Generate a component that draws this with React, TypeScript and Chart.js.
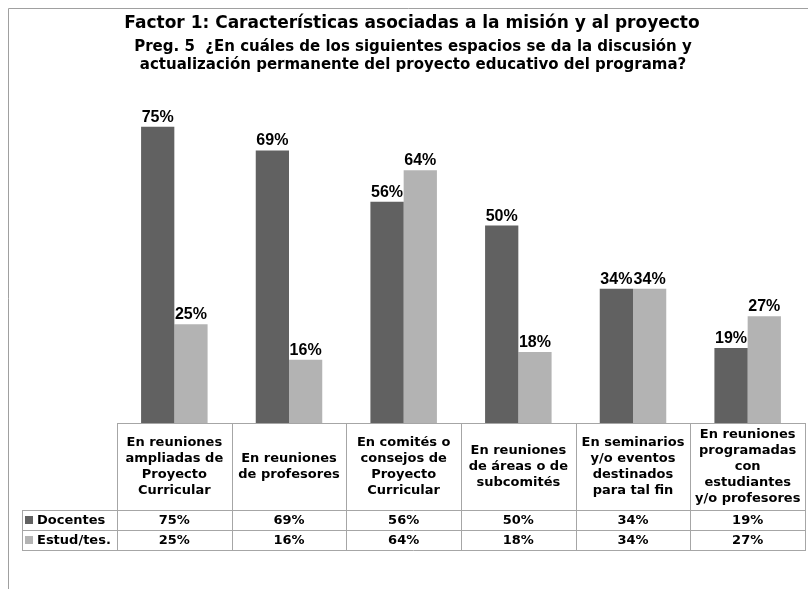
import React, { useEffect, useRef } from "react";
import { Chart, registerables } from "chart.js";

Chart.register(...registerables);

const titleLine = "Factor 1: Características asociadas a la misión y al proyecto";
const subtitleLines = [
  "Preg. 5  ¿En cuáles de los siguientes espacios se da la discusión y",
  "actualización permanente del proyecto educativo del programa?",
];
const categories: string[][] = [
  ["En reuniones", "ampliadas de", "Proyecto", "Curricular"],
  ["En reuniones", "de profesores"],
  ["En comités o", "consejos de", "Proyecto", "Curricular"],
  ["En reuniones", "de áreas o de", "subcomités"],
  ["En seminarios", "y/o eventos", "destinados", "para tal fin"],
  ["En reuniones", "programadas", "con", "estudiantes", "y/o profesores"],
];
const seriesNames = ["Docentes", "Estud/tes."];
const docentes = [75, 69, 56, 50, 34, 19];
const estudiantes = [25, 16, 64, 18, 34, 27];
const seriesColors = ["#616161", "#b3b3b3"];

const W = 808;
const H = 589;
const TABLE_FONT = "bold 13px 'DejaVu Sans'";
const GRID = "#a6a6a6";

const tablePlugin = {
  id: "tablePlugin",
  afterDraw(chart: any) {
    const ctx = chart.ctx as CanvasRenderingContext2D;
    const area = chart.chartArea;
    const xs = chart.scales.x;
    const n = chart.data.labels.length;
    const colW = (area.right - area.left) / n;
    ctx.save();

    // frame
    ctx.strokeStyle = "#a0a0a0";
    ctx.lineWidth = 1;
    ctx.beginPath();
    ctx.moveTo(8.5, H);
    ctx.lineTo(8.5, 8.5);
    ctx.lineTo(W, 8.5);
    ctx.stroke();

    // titles
    ctx.fillStyle = "#000";
    ctx.textAlign = "center";
    ctx.textBaseline = "middle";
    ctx.font = "bold 17px 'DejaVu Sans'";
    ctx.fillText(titleLine, 412, 24);
    ctx.font = "bold 15px 'DejaVu Sans'";
    ctx.fillText(subtitleLines[0], 413, 47);
    ctx.fillText(subtitleLines[1], 413, 65);

    // bar value labels
    ctx.font = "bold 16px 'Liberation Sans'";
    ctx.textBaseline = "alphabetic";
    chart.data.datasets.forEach((ds: any, di: number) => {
      const meta = chart.getDatasetMeta(di);
      meta.data.forEach((el: any, i: number) => {
        ctx.fillText(ds.data[i] + "%", el.x, el.y - 5);
      });
    });

    // table
    const top = area.bottom;
    const headBottom = top + 87;
    const rowH = 20;
    const tableLeft = 22;
    const right = area.right;
    ctx.strokeStyle = GRID;
    ctx.lineWidth = 1;
    ctx.beginPath();
    ctx.moveTo(area.left, top + 0.5);
    ctx.lineTo(right, top + 0.5);
    ctx.moveTo(tableLeft, headBottom + 0.5);
    ctx.lineTo(right, headBottom + 0.5);
    ctx.moveTo(tableLeft, headBottom + rowH + 0.5);
    ctx.lineTo(right, headBottom + rowH + 0.5);
    ctx.moveTo(tableLeft, headBottom + 2 * rowH + 0.5);
    ctx.lineTo(right, headBottom + 2 * rowH + 0.5);
    ctx.moveTo(tableLeft + 0.5, headBottom);
    ctx.lineTo(tableLeft + 0.5, headBottom + 2 * rowH + 1);
    for (let i = 0; i <= n; i++) {
      const x = Math.round(area.left + i * colW) + 0.5;
      ctx.moveTo(x, top);
      ctx.lineTo(x, headBottom + 2 * rowH + 1);
    }
    ctx.stroke();

    ctx.fillStyle = "#000";
    ctx.font = TABLE_FONT;
    ctx.textAlign = "center";
    ctx.textBaseline = "middle";
    const lh = 16;
    const mid = (top + headBottom) / 2;
    chart.data.labels.forEach((lines: string[], i: number) => {
      const cx = xs.getPixelForValue(i);
      const y0 = mid - ((lines.length - 1) * lh) / 2;
      lines.forEach((t, k) => ctx.fillText(t, cx, y0 + k * lh));
      chart.data.datasets.forEach((ds: any, di: number) => {
        ctx.fillText(ds.data[i] + "%", cx, headBottom + di * rowH + rowH / 2 + 1);
      });
    });
    ctx.textAlign = "left";
    chart.data.datasets.forEach((ds: any, di: number) => {
      const cy = headBottom + di * rowH + rowH / 2;
      ctx.fillStyle = ds.backgroundColor;
      ctx.fillRect(25, cy - 4, 8, 8);
      ctx.fillStyle = "#000";
      ctx.fillText(ds.label, 37, cy + 1);
    });
    ctx.restore();
  },
};

export default function App() {
  const ref = useRef<HTMLCanvasElement>(null);
  useEffect(() => {
    if (!ref.current) return;
    const chart = new Chart(ref.current, {
      type: "bar",
      data: {
        labels: categories as any,
        datasets: [
          { label: seriesNames[0], data: docentes, backgroundColor: seriesColors[0] },
          { label: seriesNames[1], data: estudiantes, backgroundColor: seriesColors[1] },
        ],
      },
      options: {
        responsive: false,
        animation: false,
        devicePixelRatio: 1,
        layout: { padding: { top: 107, bottom: 166, left: 117, right: 3 } },
        datasets: { bar: { categoryPercentage: 0.58, barPercentage: 1 } },
        scales: {
          x: { display: false },
          y: { display: false, min: 0, max: 80 },
        },
        plugins: {
          legend: { display: false },
          title: { display: false },
          tooltip: { enabled: false },
        },
      },
      plugins: [tablePlugin],
    });
    return () => chart.destroy();
  }, []);
  return (
    <div style={{ position: "fixed", left: 0, top: 0, width: W, height: H, background: "#fff" }}>
      <canvas ref={ref} width={W} height={H} style={{ width: W, height: H, display: "block" }} />
    </div>
  );
}
